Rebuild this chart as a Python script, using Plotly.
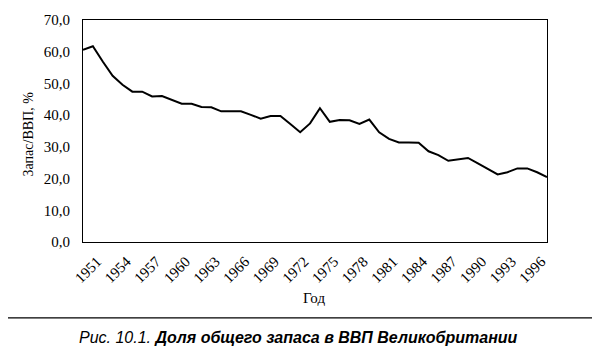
import plotly.graph_objects as go

years = list(range(1951, 1999))
values = [60.6, 61.7, 56.9, 52.4, 49.6, 47.4, 47.4, 45.9, 46.0, 44.8,
          43.6, 43.6, 42.6, 42.5, 41.2, 41.2, 41.2, 40.1, 38.9, 39.7,
          39.7, 37.2, 34.6, 37.4, 42.2, 37.9, 38.5, 38.4, 37.2, 38.6,
          34.6, 32.5, 31.4, 31.4, 31.3, 28.6, 27.4, 25.6, 26.0, 26.5,
          24.8, 23.0, 21.3, 22.0, 23.2, 23.2, 22.0, 20.5]
tick_years = list(range(1951, 1999, 3))
y_ticks = [0, 10, 20, 30, 40, 50, 60, 70]

W, H = 594, 351
L, R, T, B = 83, 47, 17, 109
pw, ph = W - L - R, H - T - B

def px(x):
    return (x - L) / pw

def py(y):
    return (H - B - y) / ph

fig = go.Figure()
fig.add_trace(go.Scatter(x=years, y=values, mode="lines",
                         line=dict(color="black", width=2), showlegend=False))

fig.update_layout(
    width=W, height=H,
    margin=dict(l=L, r=R, t=T, b=B, pad=0),
    paper_bgcolor="white", plot_bgcolor="white",
    separators=",.",
    font=dict(family="Liberation Serif", color="black", size=14),
    xaxis=dict(range=[1951, 1998], tickvals=tick_years,
               ticktext=[str(y) for y in tick_years],
               tickangle=-45, showgrid=False, zeroline=False,
               showline=True, linecolor="black", linewidth=1, mirror=True,
               ticks="", tickfont=dict(size=15, family="Liberation Serif"),
               ticklabelshift=14, ticklabelstandoff=4),
    yaxis=dict(range=[0, 70], tickvals=y_ticks, tickformat=".1f",
               showgrid=False, zeroline=False,
               showline=True, linecolor="black", linewidth=1, mirror=True,
               ticks="", ticklabelstandoff=9,
               tickfont=dict(size=15, family="Liberation Serif")),
)

fig.add_annotation(x=px(28), y=py(133), xref="paper", yref="paper",
                   text="Запас/ВВП, %", textangle=-90, showarrow=False,
                   font=dict(size=14, family="Liberation Serif"),
                   xanchor="center", yanchor="middle")
fig.add_annotation(x=px(314), y=py(299), xref="paper", yref="paper",
                   text="Год", showarrow=False,
                   font=dict(size=15, family="Liberation Serif"),
                   xanchor="center", yanchor="middle")
fig.add_shape(type="line", xref="paper", yref="paper",
              x0=px(8), x1=px(592), y0=py(319), y1=py(319),
              line=dict(color="black", width=1.3))
fig.add_annotation(x=px(298), y=py(339), xref="paper", yref="paper",
                   text="<i>Рис. 10.1. <b>Доля общего запаса в ВВП Великобритании</b></i>",
                   showarrow=False,
                   font=dict(size=16, family="Liberation Sans"),
                   xanchor="center", yanchor="middle")

fig.write_html("out.html")
